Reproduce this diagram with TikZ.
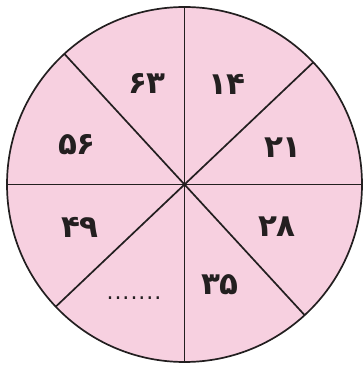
\documentclass[tikz,border=0pt]{standalone}
\usepackage{fontspec}
\usetikzlibrary{calc}
\newfontfamily\arabicfont[Script=Arabic]{DejaVu Sans}
\definecolor{pinkfill}{RGB}{247,208,224}
\definecolor{inkline}{RGB}{35,31,32}
\begin{document}
\begin{tikzpicture}[x=1pt,y=1pt,
  num/.style={font=\arabicfont\bfseries\fontsize{31}{33}\selectfont, text=inkline, inner sep=0pt},
  dotsrow/.style={font=\arabicfont\fontsize{22}{24}\selectfont, text=inkline, inner sep=0pt},
  rad/.style={draw=inkline, line width=1.7pt}]
\useasboundingbox (0,0) rectangle (363,367);
\coordinate (c) at (184.5,182.5);
\fill[pinkfill] (c) circle (177.5);
\coordinate (pA) at ($(c)+(0:177.5)$);
\coordinate (pB) at ($(c)+(43.5:177.5)$);
\coordinate (pC) at ($(c)+(90:177.5)$);
\coordinate (pD) at ($(c)+(132.6:177.5)$);
\coordinate (pE) at ($(c)+(180:177.5)$);
\coordinate (pF) at ($(c)+(223.5:177.5)$);
\coordinate (pG) at ($(c)+(270:177.5)$);
\coordinate (pH) at ($(c)+(312.6:177.5)$);
\draw[rad] (pA) -- (pE);
\draw[rad] (pC) -- (pG);
\draw[rad] (pB) -- (pF);
\draw[rad] (pD) -- (pH);
\draw[draw=inkline, line width=1.7pt] (c) circle (177.5);
\node[num] (n14) at (227,283) {۱۴};
\node[num] (n21) at (283,219) {۲۱};
\node[num] (n28) at (277,140) {۲۸};
\node[num] (n35) at (220,82) {۳۵};
\node[dotsrow] (ndots) at (134,69) {.\hspace{1pt}.\hspace{1pt}.\hspace{1pt}.\hspace{1pt}.\hspace{1pt}.\hspace{1pt}.};
\node[num] (n49) at (80,140) {۴۹};
\node[num] (n56) at (77,222) {۵۶};
\node[num] (n63) at (147,284) {۶۳};
\end{tikzpicture}
\end{document}
